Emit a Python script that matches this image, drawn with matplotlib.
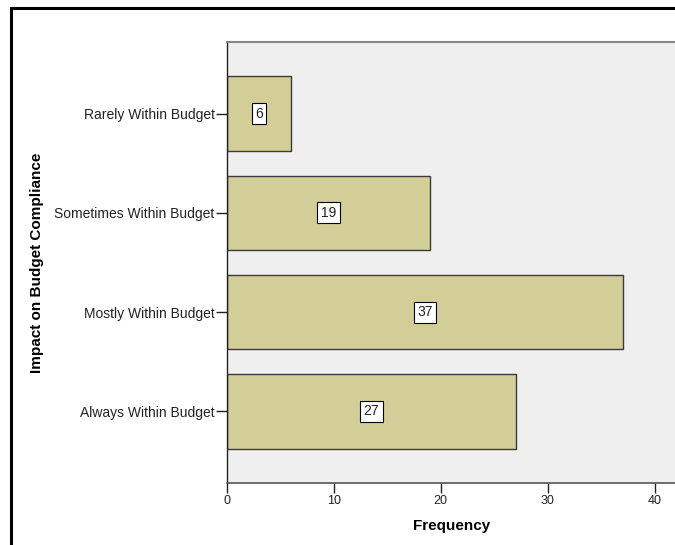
import matplotlib.pyplot as plt
from matplotlib.patches import Rectangle

categories = ["Always Within Budget", "Mostly Within Budget",
              "Sometimes Within Budget", "Rarely Within Budget"]
counts = [27, 37, 19, 6]

plt.rcParams['font.family'] = ['Liberation Sans', 'DejaVu Sans']

W, H = 675, 545
fig = plt.figure(figsize=(W / 100, H / 100), dpi=100)

# outer chart frame (runs off the right and bottom edges)
fig.patches.append(Rectangle((11 / W, -0.1), 2.0, 1 - 8 / H + 0.1,
                             transform=fig.transFigure, fill=False,
                             edgecolor='black', linewidth=2.2))

left, right, top, bottom = 227, 676, 42, 483
ax = fig.add_axes([left / W, 1 - bottom / H, (right - left) / W, (bottom - top) / H])
ax.set_facecolor('#efefef')

ypos = list(range(len(categories)))
ax.barh(ypos, counts, height=0.75, color='#d3ce98', edgecolor='#3a3a3a', linewidth=1.0)

for y, c in zip(ypos, counts):
    ax.text(c / 2, y, str(c), ha='center', va='center', fontsize=10, color='#222222',
            bbox=dict(boxstyle='square,pad=0.25', facecolor='white',
                      edgecolor='black', linewidth=0.8))

ax.set_xlim(0, 42)
ax.set_ylim(-0.72, 3.72)
ax.set_xticks([0, 10, 20, 30, 40])
ax.set_yticks(ypos)
ax.set_yticklabels(categories)
ax.tick_params(axis='y', length=8, width=1, color='#222222', labelsize=10,
               labelcolor='#222222', pad=1)
ax.tick_params(axis='x', length=7, width=1, color='#222222', labelsize=9,
               labelcolor='#222222', pad=2)

ax.spines['left'].set_color('#222222')
ax.spines['left'].set_linewidth(1)
ax.spines['bottom'].set_color('#555555')
ax.spines['bottom'].set_linewidth(1.2)
ax.spines['top'].set_color('#888888')
ax.spines['top'].set_linewidth(1.5)
ax.spines['right'].set_visible(False)

ax.set_xlabel('Frequency', fontsize=11, fontweight='bold', labelpad=8)
ax.set_ylabel('Impact on Budget Compliance', fontsize=11, fontweight='bold')
ax.yaxis.set_label_coords(-(left - 44) / (right - left), 0.5)

fig.savefig('out.png', dpi=100)
